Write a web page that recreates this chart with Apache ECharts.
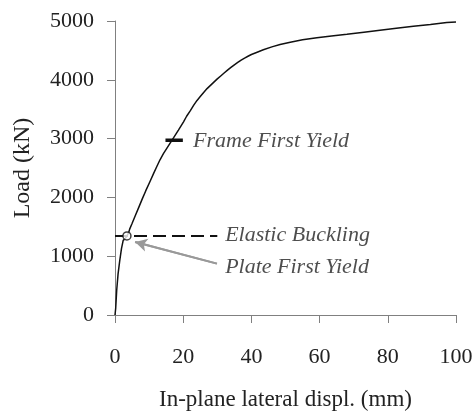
<!DOCTYPE html>
<html>
<head>
<meta charset="utf-8">
<script src="https://cdn.jsdelivr.net/npm/echarts@6.0.0/dist/echarts.min.js"></script>
<style>html,body{margin:0;padding:0;background:#fff}#c{width:476px;height:416px}</style>
</head>
<body>
<div id="c"></div>
<script>
// Load-displacement curve
const dispMm = [0, 0.2, 0.5, 0.7, 0.9, 1.1, 1.4, 1.7, 1.9, 2.2, 2.4, 2.7, 3.0, 3.5, 4.0, 4.3, 4.6, 5.0, 6.0, 7.0, 8.0, 9.0, 10.3, 11.3, 12.3, 13.2, 14.2, 15.7, 17.2, 18.6, 20.1, 21.0, 22.1, 23.0, 24.0, 25.0, 26.0, 27.0, 28.0, 29.0, 30.0, 31.0, 32.0, 33.0, 34.0, 35.0, 36.0, 37.0, 38.0, 39.0, 40.0, 41.5, 43.5, 46.0, 48.4, 51.4, 55.0, 59.2, 63.5, 68.0, 73.0, 77.7, 82.5, 87.5, 92.5, 97.3, 100];
const loadKN = [0, 110, 420, 430, 700, 710, 930, 940, 1130, 1140, 1270, 1280, 1300, 1345, 1400, 1460, 1480, 1555, 1695, 1835, 1975, 2110, 2275, 2405, 2530, 2640, 2745, 2880, 3015, 3145, 3285, 3380, 3475, 3560, 3645, 3715, 3785, 3850, 3905, 3960, 4015, 4065, 4115, 4165, 4210, 4255, 4295, 4335, 4370, 4400, 4430, 4465, 4510, 4560, 4600, 4640, 4680, 4715, 4745, 4775, 4810, 4842, 4875, 4910, 4940, 4973, 4983];
// Annotations
const bucklingX = [0, 30];
const bucklingY = [1345, 1345];
const frameYieldX = [14.8, 19.9];
const frameYieldY = [2971, 2971];
const plateYieldPoint = [3.5, 1345];
const arrowFrom = [29.9, 874];
const arrowTo = [5.9, 1241];
const labelTexts = ['Frame First Yield', 'Elastic Buckling', 'Plate First Yield'];
const labelX = [22.9, 32.3, 32.3];
const labelY = [2960, 1365, 815];
const xTicks = [0, 20, 40, 60, 80, 100];
const yTicks = [0, 1000, 2000, 3000, 4000, 5000];

const FONT = 'Liberation Serif';
const chart = echarts.init(document.getElementById('c'), null, {renderer: 'canvas'});
chart.setOption({
  animation: false,
  backgroundColor: '#fff',
  grid: {left: 115, right: 20, top: 21, bottom: 101, containLabel: false},
  xAxis: {
    type: 'value', min: xTicks[0], max: xTicks[xTicks.length - 1], interval: xTicks[1] - xTicks[0],
    name: 'In-plane lateral displ. (mm)', nameLocation: 'middle', nameGap: 73,
    nameTextStyle: {fontFamily: FONT, fontSize: 23, color: '#222'},
    axisLine: {show: true, lineStyle: {color: '#808080', width: 1}},
    axisTick: {show: true, inside: false, length: 8, lineStyle: {color: '#808080'}},
    axisLabel: {margin: 31, fontFamily: FONT, fontSize: 22, color: '#222', formatter: v => String(v)},
    splitLine: {show: false}
  },
  yAxis: {
    type: 'value', min: yTicks[0], max: yTicks[yTicks.length - 1], interval: yTicks[1] - yTicks[0],
    name: 'Load (kN)', nameLocation: 'middle', nameGap: 80, nameRotate: 90,
    nameTextStyle: {fontFamily: FONT, fontSize: 24, color: '#222'},
    axisLine: {show: true, lineStyle: {color: '#808080', width: 1}},
    axisTick: {show: true, inside: false, length: 8, lineStyle: {color: '#808080'}},
    axisLabel: {margin: 21, fontFamily: FONT, fontSize: 22, color: '#222', formatter: v => String(v)},
    splitLine: {show: false}
  },
  series: [
    {
      type: 'line', data: dispMm.map((x, i) => [x, loadKN[i]]),
      showSymbol: false, symbol: 'none', smooth: false,
      lineStyle: {color: '#111', width: 1.5}, z: 3
    },
    {
      type: 'line', data: bucklingX.map((x, i) => [x, bucklingY[i]]),
      symbol: 'none', lineStyle: {color: '#111', width: 2, type: [13, 6]}, z: 2
    },
    {
      type: 'line', data: frameYieldX.map((x, i) => [x, frameYieldY[i]]),
      symbol: 'none', lineStyle: {color: '#111', width: 3.5}, z: 4
    },
    {
      type: 'line', data: [arrowFrom, arrowTo], symbol: 'none',
      lineStyle: {color: '#999', width: 2}, z: 2,
      markLine: {
        silent: true, symbol: ['none', 'arrow'], symbolSize: [10, 12],
        label: {show: false},
        lineStyle: {color: '#999', width: 2, type: 'solid'},
        data: [[{coord: arrowFrom}, {coord: arrowTo}]]
      }
    },
    {
      type: 'scatter', data: [plateYieldPoint], symbol: 'circle', symbolSize: 8,
      itemStyle: {color: '#fff', borderColor: '#111', borderWidth: 1.5}, z: 5
    },
    {
      type: 'scatter', symbolSize: 0,
      data: labelX.map((x, i) => ({value: [x, labelY[i]], name: labelTexts[i]})),
      label: {
        show: true, position: 'right', distance: 0, formatter: p => p.name,
        fontFamily: FONT, fontStyle: 'italic', fontSize: 22, color: '#222'
      },
      z: 6
    }
  ]
});
</script>
</body>
</html>
